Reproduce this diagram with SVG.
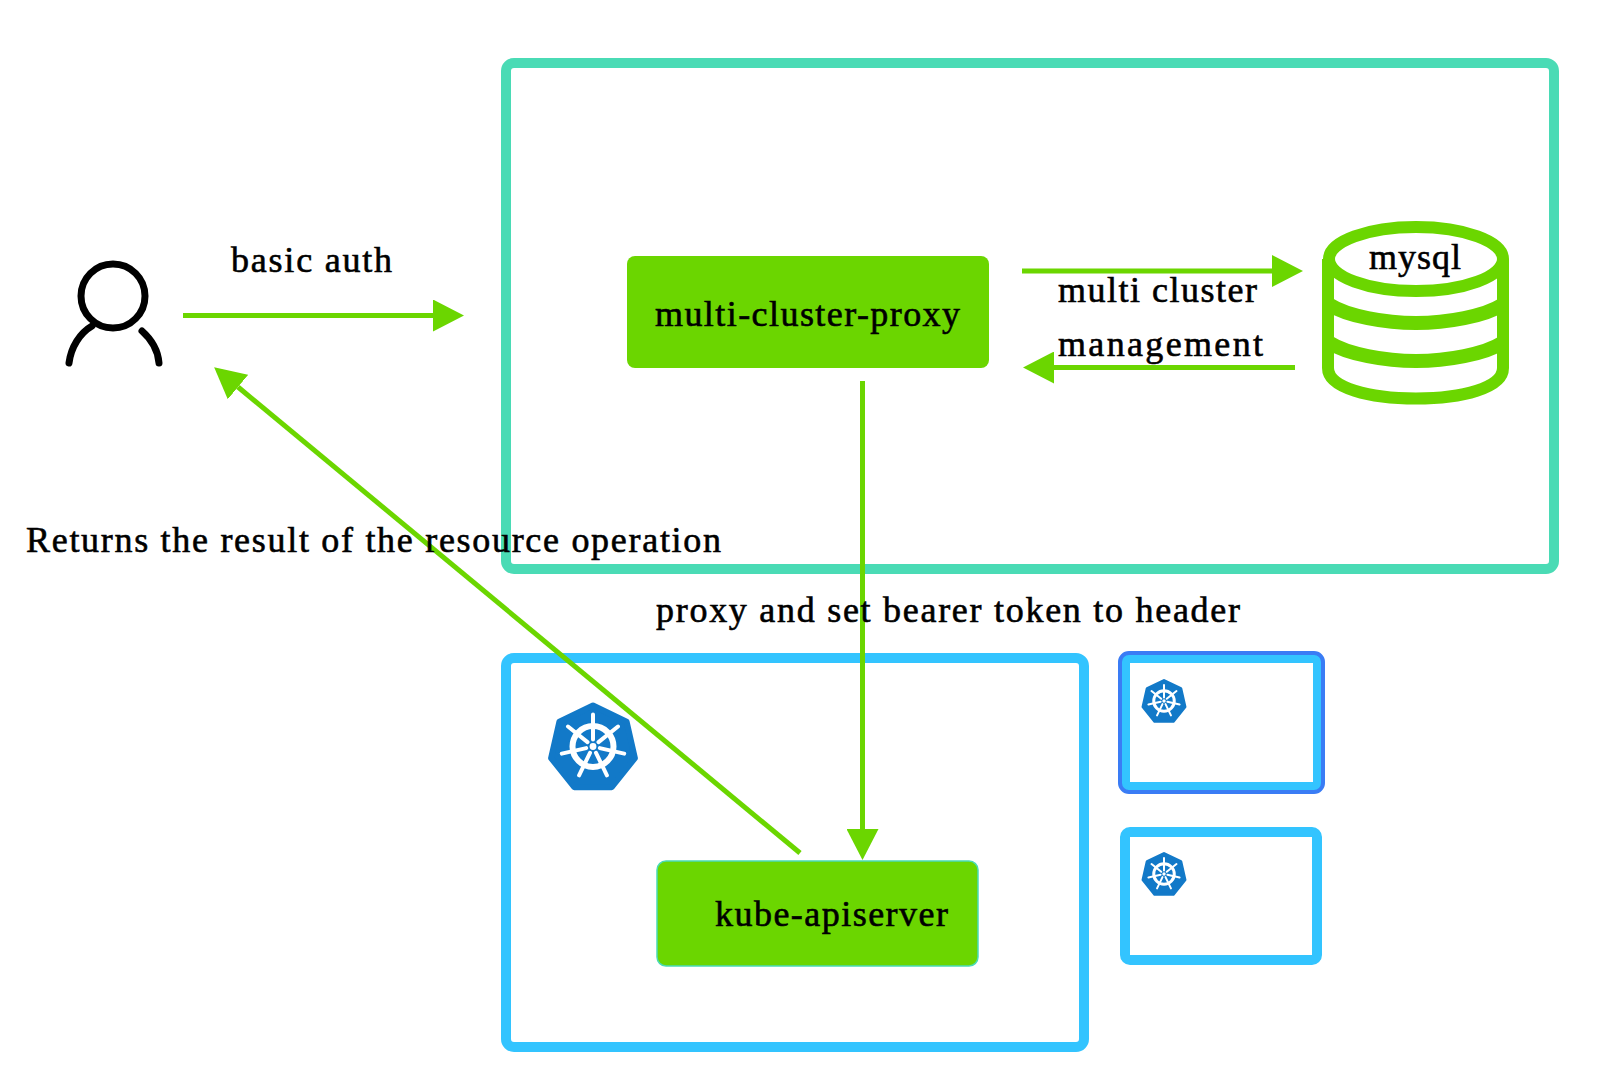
<svg xmlns="http://www.w3.org/2000/svg" width="1622" height="1090" viewBox="0 0 1622 1090">
<style>
text{font-family:"Liberation Serif","Times New Roman",serif;font-size:36px;fill:#000;stroke:#000;stroke-width:.6px}
.c{fill:none;stroke:#6bd600;stroke-width:5}
.green{fill:#6bd600}
.cy{fill:#fff;stroke:#33c4ff;stroke-width:10}
.p{fill:none;stroke:#000;stroke-width:7;stroke-linecap:round}
.db{fill:none;stroke:#6bd600;stroke-width:12}
.band{fill:none;stroke:#6bd600;stroke-width:14}
</style>
<defs>
<marker id="ah" markerUnits="userSpaceOnUse" markerWidth="31" markerHeight="32" refX="0" refY="16" orient="auto"><path d="M0 0L31 16L0 32z" fill="#6bd600"/></marker>
<g id="k8s">
<path d="M0 -43L33.6 -26.8L41.9 9.6L18.7 38.7L-18.7 38.7L-41.9 9.6L-33.6 -26.8Z" fill="#1279c8" stroke="#1279c8" stroke-width="6" stroke-linejoin="round"/>
<g transform="translate(0,-2)" fill="none" stroke="#fff">
<circle r="20.5" stroke-width="6"/>
<circle r="3.4" fill="#fff" stroke="none"/>
<g stroke-width="4" stroke-linecap="round">
<path d="M0 -7V-32M5.5 -4.4L25 -20M6.800 1.600L31.200 7.100M3 6.300L13.900 28.800M-3 6.300L-13.900 28.800M-6.800 1.600L-31.200 7.100M-5.500 -4.400L-25 -20"/>
</g></g></g>
</defs>
<rect width="1622" height="1090" fill="#fff"/>
<g id="proxy-zone"><rect x="506" y="63" width="1048" height="506" rx="8" fill="#fff" stroke="#4adbb5" stroke-width="10"/></g>
<g id="cluster-main"><rect x="506" y="658" width="578" height="389" rx="8" class="cy"/><use href="#k8s" x="593" y="748.500"/></g>
<g id="cluster-b"><rect x="1125" y="658" width="193" height="129" rx="5" class="cy"/><rect x="1120" y="653" width="203" height="139" rx="9" fill="none" stroke="#3a7cf5" stroke-width="4"/><use href="#k8s" transform="translate(1164,702) scale(.5)"/></g>
<g id="cluster-c"><rect x="1125" y="832" width="192" height="128" rx="5" class="cy"/><use href="#k8s" transform="translate(1164,875) scale(.5)"/></g>
<g id="user"><circle cx="113" cy="296" r="32" fill="none" stroke="#000" stroke-width="7"/><path class="p" d="M69 363C71 347 80 333 92 326M142 331C151 339 158 350 159 363"/></g>
<g id="multi-cluster-proxy"><rect x="627" y="256" width="362" height="112" rx="8" class="green"/><text x="655" y="326" textLength="305">multi-cluster-proxy</text></g>
<g id="kube-apiserver"><rect x="657" y="861" width="321" height="105" rx="9" class="green" stroke="#4adbb5" stroke-width="1.5"/><text x="715" y="926" textLength="233">kube-apiserver</text></g>
<g id="mysql">
<ellipse class="db" cx="1416" cy="259" rx="87" ry="32"/>
<path class="db" d="M1328 259V368C1328 388 1370 398.500 1416 398.500C1462 398.500 1503 388 1503 368V259"/>
<path class="band" d="M1330 305C1347 316 1385 323 1416 323C1447 323 1485 316 1502 305M1330 343C1347 354 1385 361 1416 361C1447 361 1485 354 1502 343"/>
<text x="1369" y="269" textLength="92">mysql</text>
</g>
<g id="connectors">
<path class="c" d="M183 315.500H433" marker-end="url(#ah)"/>
<path class="c" d="M1022 271H1272" marker-end="url(#ah)"/>
<path class="c" d="M1295 367.500H1054" marker-end="url(#ah)"/>
<path class="c" d="M862.500 381V829" marker-end="url(#ah)"/>
<path class="c" d="M800 853L238 387" marker-end="url(#ah)"/>
</g>
<g id="labels">
<text x="231" y="272" textLength="161">basic auth</text>
<text x="1058" y="302" textLength="199">multi cluster</text>
<text x="1058" y="356" textLength="205">management</text>
<text x="26" y="552" textLength="695">Returns the result of the resource operation</text>
<text x="656" y="622" textLength="584">proxy and set bearer token to header</text>
</g>
</svg>
